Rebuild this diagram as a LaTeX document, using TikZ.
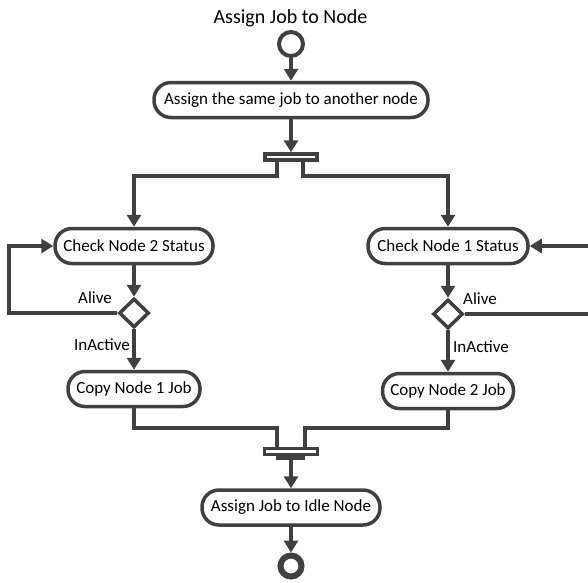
\documentclass[tikz,border=0pt]{standalone}
\usepackage{fontspec}
\setmainfont{Carlito}
\usetikzlibrary{arrows.meta,shapes.geometric}

\definecolor{ink}{HTML}{404040}

\tikzset{
  flow/.style={draw=ink, line width=4pt, -{Triangle[length=12pt,width=14pt]}},
  wire/.style={draw=ink, line width=4pt},
  action/.style={draw=ink, line width=3.5pt, fill=white, rectangle,
    rounded corners=17pt, minimum height=35pt, inner sep=2pt,
    font=\fontsize{17}{19}\selectfont},
  decision/.style={draw=ink, line width=3.5pt, fill=white, diamond,
    minimum width=30pt, minimum height=29pt, inner sep=0pt},
  bar/.style={draw=ink, line width=3.5pt, fill=white, rectangle,
    minimum width=52pt, minimum height=6pt, inner sep=0pt},
  startnode/.style={draw=ink, line width=4pt, fill=white, circle,
    minimum size=24pt, inner sep=0pt},
  endnode/.style={draw=ink, line width=6pt, fill=white, circle,
    minimum size=21pt, inner sep=0pt},
  guard/.style={font=\fontsize{17}{19}\selectfont, inner sep=0pt},
}

\begin{document}
\begin{tikzpicture}[x=1pt, y=-1pt]
  \useasboundingbox (0,0) rectangle (588,582);

  % title and start
  \node[font=\fontsize{20}{22}\selectfont] (title) at (290.5,18) {Assign Job to Node};
  \node[startnode] (start) at (291,44) {};

  % main actions
  \node[action, minimum width=274pt] (assign) at (291,100) {Assign the same job to another node};
  \node[bar] (fork) at (291,157) {};

  \node[action, minimum width=158pt] (chk2) at (134,246) {Check Node 2 Status};
  \node[action, minimum width=160pt] (chk1) at (448,246) {Check Node 1 Status};

  \node[decision] (dec2) at (134,313) {};
  \node[decision] (dec1) at (448,314) {};

  \node[action, minimum width=132pt] (copy1) at (134,389) {Copy Node 1 Job};
  \node[action, minimum width=131pt] (copy2) at (448,391) {Copy Node 2 Job};

  \node[bar, minimum width=53pt] (join) at (291,451.5) {};
  \node[action, minimum width=178pt] (idle) at (291,507.5) {Assign Job to Idle Node};
  \node[endnode] (stop) at (291,566) {};

  % guard labels
  \node[guard, anchor=east] (alive2) at (112,298) {Alive};
  \node[guard, anchor=east] (inact2) at (130,345) {InActive};
  \node[guard, anchor=west] (alive1) at (463,299) {Alive};
  \node[guard, anchor=west] (inact1) at (453,347) {InActive};

  % top part
  \draw[flow] (start.south) -- (assign.north);
  \draw[flow] (assign.south) -- (fork.north);

  % fork branches
  \draw[flow] ([xshift=-14pt]fork.south) -- ++(0,14) -| (chk2.north);
  \draw[flow] ([xshift=12pt]fork.south) -- ++(0,14) -| (chk1.north);

  % left branch
  \draw[flow] (chk2) -- (dec2);
  \draw[flow] (dec2.west) -- ++(-108,0) |- (chk2.west);
  \draw[flow] (dec2) -- (copy1);

  % right branch
  \draw[flow] (chk1) -- (dec1);
  \draw[flow] (dec1.east) -- ++(140,0) |- (chk1.east);
  \draw[flow] (dec1) -- (copy2);

  % join
  \draw[wire] (copy1.south) -- ++(0,20) -| ([xshift=-14pt]join.north);
  \draw[wire] (copy2.south) -- ++(0,18) -| ([xshift=14pt]join.north);
  \fill[ink] ([xshift=-15.5pt,yshift=1pt]join.south) rectangle ([xshift=14pt,yshift=-4pt]join.south);
  \draw[flow] (join) -- (idle);
  \draw[flow] (idle) -- (stop);
\end{tikzpicture}
\end{document}
